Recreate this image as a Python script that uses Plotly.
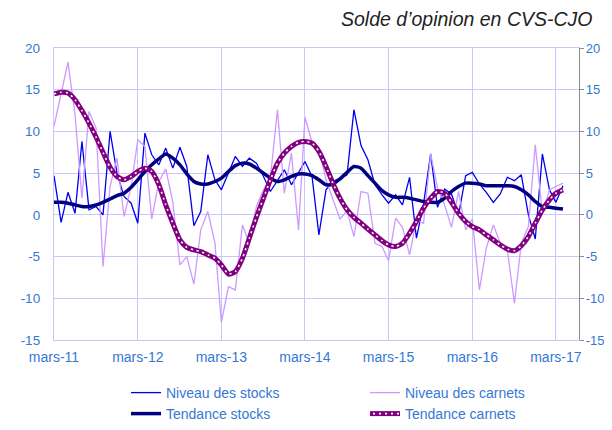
import pandas as pd
import plotly.graph_objects as go

# Monthly categories: mars-2011 .. avril-2017
months = pd.date_range("2011-03-01", periods=74, freq="MS")

tick_dates = ["2011-03-01", "2012-03-01", "2013-03-01", "2014-03-01",
              "2015-03-01", "2016-03-01", "2017-03-01"]
tick_labels = ["mars-11", "mars-12", "mars-13", "mars-14", "mars-15", "mars-16", "mars-17"]
y_ticks = [-15, -10, -5, 0, 5, 10, 15, 20]
y_tick_labels = ["-15", "-10", "-5", "0", "5", "10", "15", "20"]

niveau_stocks = [
    4.7, -0.9, 2.7, 0.2, 8.8, 0.6, 1.0, 0.0, 10.0, 5.0,
    2.2, 1.4, -1.0, 9.8, 7.2, 6.0, 8.0, 5.6, 8.1, 5.8,
    -1.3, 0.4, 7.2, 4.2, 3.0, 5.0, 7.0, 5.8, 6.8, 6.2,
    4.6, 2.8, 4.2, 5.4, 3.6, 5.0, 6.4, 4.6, -2.4, 3.0,
    4.0, 4.4, 4.8, 12.6, 8.3, 6.6, 3.6, 2.4, 1.4, 2.4,
    1.2, 4.5, -2.8, 1.3, 7.3, 0.9, 3.1, 2.5, 0.0, 4.7,
    5.1, 3.7, 2.7, 1.5, 2.5, 4.5, 4.1, 4.8, 0.0, -2.9,
    7.3, 3.0, 1.5, 3.5,
]

niveau_carnets = [
    10.6, 14.7, 18.3, 12.0, 2.0, 12.4, 10.4, -6.2, 3.4, 6.8,
    -0.2, 3.4, 9.0, 8.2, -0.5, 4.0, 5.5, 1.5, -6.0, -5.0,
    -8.3, -1.8, 0.4, -3.4, -12.9, -8.6, -9.0, -1.2, -3.4, 1.0,
    3.0, 4.4, 12.6, 2.6, 7.4, -1.8, 11.7, 8.7, 8.0, 4.2,
    1.8, -0.5, 0.5, -2.6, 2.8, 2.6, -3.4, -3.8, -5.5, -0.4,
    -1.5, -4.8, -0.6, -1.0, 7.3, 3.2, 1.2, -1.5, 2.8, -1.8,
    -0.5, -9.0, -4.0, -1.2, -3.4, -4.2, -10.6, -3.4, -1.4, 8.4,
    0.2, 3.0, 3.4, 3.8,
]

tendance_stocks = [
    1.5, 1.5, 1.4, 1.2, 1.0, 1.0, 1.2, 1.5, 1.9, 2.3,
    2.6, 3.3, 4.2, 5.2, 6.0, 6.7, 7.3, 6.8, 6.0, 4.9,
    4.0, 3.7, 3.7, 4.0, 4.4, 5.2, 5.9, 6.2, 6.1, 5.6,
    5.0, 4.4, 4.0, 4.2, 4.6, 4.9, 4.9, 4.7, 4.2, 3.6,
    3.7, 4.3, 5.1, 5.8, 5.6, 4.7, 3.8, 2.9, 2.4, 2.1,
    2.1, 2.0, 1.8, 1.6, 1.5, 1.5, 2.0, 2.8, 3.4, 3.8,
    3.8, 3.7, 3.5, 3.5, 3.5, 3.5, 3.4, 3.0, 2.4, 1.6,
    1.0, 0.9, 0.8, 0.7,
]

tendance_carnets = [
    14.5, 14.7, 14.6, 13.8, 12.5, 11.0, 9.3, 7.5, 5.7, 4.6,
    4.2, 4.6, 5.2, 5.6, 5.2, 3.6, 1.2, -1.0, -3.0, -3.9,
    -4.2, -4.4, -4.8, -5.2, -6.0, -7.1, -6.8, -5.2, -2.8, -0.3,
    2.0, 4.2, 6.2, 7.4, 8.2, 8.7, 8.8, 8.6, 7.6, 5.8,
    3.8, 2.0, 0.6, -0.3, -1.0, -1.7, -2.4, -3.1, -3.6, -3.8,
    -3.4, -2.2, -0.8, 0.8, 2.0, 2.8, 2.6, 1.5, 0.2, -0.8,
    -1.4, -1.8, -2.4, -3.0, -3.6, -4.1, -4.3, -3.7, -2.6, -1.0,
    0.6, 1.8, 2.6, 3.0,
]

BLUE_TXT = "#3578D4"
GRID = "#C8C8FF"
FONT = "Liberation Sans, Arial, sans-serif"

# the page body adds an 8px margin on every side; size the figure so the page fits the window
W, H = 596, 414

fig = go.Figure()
fig.add_trace(go.Scatter(x=months, y=niveau_stocks, name="Niveau des stocks", mode="lines",
                         line=dict(color="#0000F0", width=1.3), legend="legend"))
fig.add_trace(go.Scatter(x=months, y=niveau_carnets, name="Niveau des carnets", mode="lines",
                         line=dict(color="#CC99FF", width=1.3), legend="legend"))
fig.add_trace(go.Scatter(x=months, y=tendance_stocks, name="Tendance stocks", mode="lines",
                         line=dict(color="#000080", width=3.5, shape="spline", smoothing=0.6),
                         legend="legend2"))
fig.add_trace(go.Scatter(x=months, y=tendance_carnets, name="Tendance carnets", mode="lines",
                         line=dict(color="#800080", width=5, shape="spline", smoothing=0.6),
                         legend="legend2"))
# white dotted overlay of the carnets trend (its legend sample overlays the purple sample)
fig.add_trace(go.Scatter(x=months, y=tendance_carnets, name=" ", mode="lines",
                         line=dict(color="white", width=1.6, dash="2px,4px", shape="spline", smoothing=0.6),
                         hoverinfo="skip", yaxis="y2", legend="legend3"))

legend_common = dict(
    orientation="h", xref="container", yref="container",
    xanchor="left", yanchor="top",
    entrywidth=194, entrywidthmode="pixels",
    font=dict(family=FONT, size=14, color=BLUE_TXT), bgcolor="rgba(0,0,0,0)",
)

fig.update_layout(
    width=W, height=H,
    margin=dict(l=46, r=25, t=40, b=82, autoexpand=False),
    paper_bgcolor="white", plot_bgcolor="white",
    font=dict(family=FONT, size=14, color=BLUE_TXT),
    xaxis=dict(
        type="date", range=["2011-03-01", "2017-06-10"],
        tickvals=tick_dates, ticktext=tick_labels,
        showgrid=True, gridcolor=GRID, gridwidth=1.3,
        showline=True, linecolor=GRID, linewidth=1.3, mirror=True,
        ticks="", ticklabelstandoff=4,
        tickfont=dict(family=FONT, size=14, color=BLUE_TXT),
        zeroline=False,
    ),
    yaxis=dict(
        range=[-15, 20], tickvals=y_ticks, ticktext=y_tick_labels,
        showgrid=True, gridcolor=GRID, gridwidth=1.3,
        showline=True, linecolor=GRID, linewidth=1.3,
        zeroline=False, ticks="", ticklabelstandoff=10,
        tickfont=dict(family=FONT, size=13.5, color=BLUE_TXT),
    ),
    yaxis2=dict(
        range=[-15, 20], tickvals=y_ticks, ticktext=y_tick_labels,
        overlaying="y", side="right",
        showgrid=False, zeroline=False,
        showline=True, linecolor="#8C8C8C", linewidth=1.3,
        ticks="outside", ticklen=4, tickcolor="#8C8C8C", tickwidth=1.3,
        ticklabelstandoff=-1,
        tickfont=dict(family=FONT, size=13, color=BLUE_TXT),
    ),
    legend=dict(legend_common, x=118 / W, y=1 - 369 / H),
    legend2=dict(legend_common, x=118 / W, y=1 - 390 / H),
    legend3=dict(legend_common, x=(118 + 242) / W, y=1 - 390 / H),
    annotations=[dict(
        text="Solde d’opinion en CVS-CJO", xref="paper", yref="paper",
        x=1.028, y=1.098, xanchor="right", yanchor="middle", showarrow=False,
        font=dict(family=FONT, size=19.5, color="#222222", style="italic"),
    )],
    showlegend=True,
)

fig.write_html("out.html")
